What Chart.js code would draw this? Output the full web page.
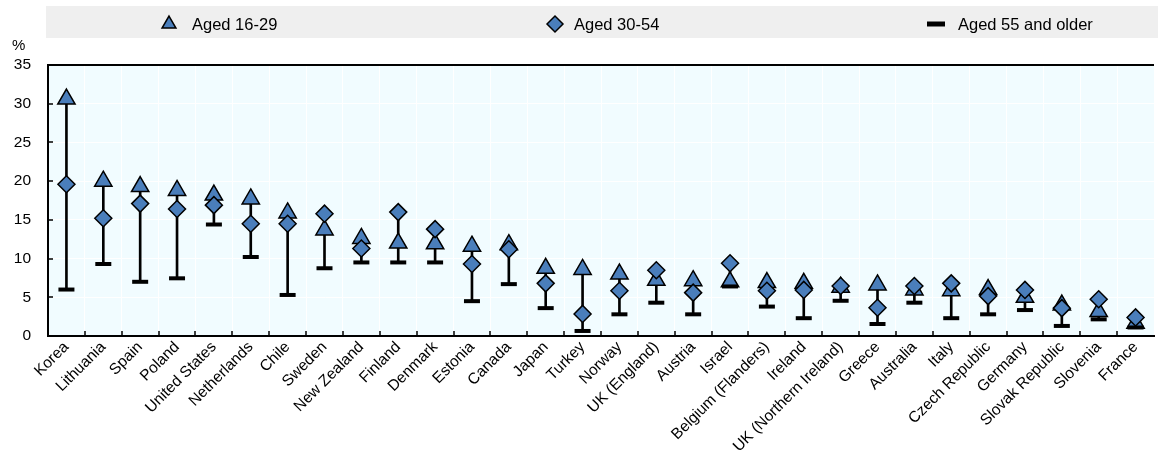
<!DOCTYPE html>
<html>
<head>
<meta charset="utf-8">
<script src="https://cdn.jsdelivr.net/npm/chart.js@4.4.1/dist/chart.umd.min.js"></script>
<style>
  html, body { margin: 0; padding: 0; background: #fff; overflow: hidden; }
  #wrap { width: 1158px; height: 457px; overflow: hidden; }
</style>
</head>
<body>
<div id="wrap"><canvas id="chart" width="1166" height="457"></canvas></div>
<script>
const FONT = "'Liberation Sans', Arial, sans-serif";
const BLUE = '#4A7EBB';

// Values (%)
const countries = ['Korea', 'Lithuania', 'Spain', 'Poland', 'United States', 'Netherlands', 'Chile',
  'Sweden', 'New Zealand', 'Finland', 'Denmark', 'Estonia', 'Canada', 'Japan', 'Turkey', 'Norway',
  'UK (England)', 'Austria', 'Israel', 'Belgium (Flanders)', 'Ireland', 'UK (Northern Ireland)',
  'Greece', 'Australia', 'Italy', 'Czech Republic', 'Germany', 'Slovak Republic', 'Slovenia', 'France'];
const aged16to29 = [30.6, 20.0, 19.3, 18.8, 18.2, 17.7, 15.9, 13.7, 12.6, 12.0, 11.9, 11.6, 11.8, 8.75,
  8.6, 8.0, 7.2, 7.15, 7.0, 6.9, 6.8, 6.3, 6.6, 5.95, 5.85, 6.0, 5.0, 4.0, 3.15, 1.65];
const aged30to54 = [19.6, 15.2, 17.1, 16.4, 16.9, 14.5, 14.5, 15.8, 11.3, 16.0, 13.8, 9.3, 11.2, 6.8,
  2.85, 5.85, 8.5, 5.6, 9.4, 5.85, 5.95, 6.45, 3.65, 6.45, 6.8, 5.15, 5.95, 3.6, 4.75, 2.4];
const aged55plus = [6.0, 9.3, 7.0, 7.45, 14.4, 10.2, 5.3, 8.75, 9.5, 9.5, 9.5, 4.5, 6.7, 3.6,
  0.65, 2.8, 4.3, 2.8, 6.4, 3.8, 2.3, 4.55, 1.55, 4.3, 2.3, 2.8, 3.35, 1.3, 2.15, 1.1];
const yTicks = [0, 5, 10, 15, 20, 25, 30, 35];

// vertical line spans lowest to highest of the three groups
const ranges = countries.map((c, i) => {
  const v = [aged16to29[i], aged30to54[i], aged55plus[i]];
  return [Math.min(...v), Math.max(...v)];
});

const frame = {
  id: 'frame',
  beforeDraw(chart) {
    const { ctx, chartArea: a } = chart;
    ctx.save();
    ctx.fillStyle = '#F1FCFF';
    ctx.fillRect(a.left, a.top, a.right - a.left, a.bottom - a.top);
    ctx.restore();
  },
  beforeDatasetsDraw(chart) {
    const { ctx, chartArea: a, scales: { x, y } } = chart;
    ctx.save();
    ctx.strokeStyle = '#000';
    ctx.lineWidth = 2;
    ctx.beginPath();
    ctx.moveTo(a.left - 1, a.top);
    ctx.lineTo(a.right, a.top);
    ctx.stroke();
    // small inward tick marks
    ctx.lineWidth = 1.5;
    ctx.beginPath();
    for (let i = 1; i < countries.length; i++) {
      const px = Math.round((x.getPixelForTick(i - 1) + x.getPixelForTick(i)) / 2);
      ctx.moveTo(px, a.bottom);
      ctx.lineTo(px, a.bottom - 5);
    }
    yTicks.forEach(v => {
      const py = Math.round(y.getPixelForValue(v));
      ctx.moveTo(a.left, py);
      ctx.lineTo(a.left + 5, py);
    });
    ctx.stroke();
    ctx.restore();
  },
  afterDraw(chart) {
    const ctx = chart.ctx;
    ctx.save();
    ctx.fillStyle = '#EFEFEF';
    ctx.fillRect(46, 6, 1120, 32);
    ctx.fillStyle = '#000';
    ctx.font = '15px ' + FONT;
    ctx.textBaseline = 'middle';
    ctx.fillText('%', 12, 46);

    const items = [
      { ds: 2, x: 169, tx: 192 },
      { ds: 0, x: 555, tx: 574 },
      { ds: 1, x: 936, tx: 958 }
    ];
    const ly = 24;
    items.forEach(it => {
      const d = chart.data.datasets[it.ds];
      ctx.fillStyle = d.pointBackgroundColor || '#000';
      ctx.strokeStyle = d.pointBorderColor;
      ctx.lineWidth = d.pointStyle === 'line' ? 5 : 1.5;
      Chart.helpers.drawPoint(ctx, {
        pointStyle: d.pointStyle,
        radius: d.pointStyle === 'line' ? 9 : 8,
        rotation: 0,
        borderWidth: ctx.lineWidth
      }, it.x, ly);
      ctx.fillStyle = '#000';
      ctx.font = '16.5px ' + FONT;
      ctx.textBaseline = 'middle';
      ctx.fillText(d.label, it.tx, ly + 1);
    });
    ctx.restore();
  }
};

new Chart(document.getElementById('chart'), {
  type: 'bar',
  data: {
    labels: countries,
    datasets: [
      {
        type: 'line', label: 'Aged 30-54', data: aged30to54, showLine: false,
        pointStyle: 'rectRot', pointRadius: 8.5, pointHoverRadius: 8.5,
        pointBackgroundColor: BLUE, pointBorderColor: '#000', pointBorderWidth: 1.5, order: 1
      },
      {
        type: 'line', label: 'Aged 55 and older', data: aged55plus, showLine: false,
        pointStyle: 'line', pointRadius: 8, pointHoverRadius: 8,
        pointBorderColor: '#000', pointBorderWidth: 4, order: 2
      },
      {
        type: 'line', label: 'Aged 16-29', data: aged16to29, showLine: false,
        pointStyle: 'triangle', pointRadius: 10, pointHoverRadius: 10,
        pointBackgroundColor: BLUE, pointBorderColor: '#000', pointBorderWidth: 1.5, order: 3
      },
      {
        type: 'bar', label: 'range', data: ranges, backgroundColor: '#000',
        barThickness: 2, order: 4
      }
    ]
  },
  options: {
    responsive: false,
    maintainAspectRatio: false,
    devicePixelRatio: 1,
    animation: false,
    events: [],
    layout: { padding: { top: 65, right: 0, bottom: 0, left: 0 } },
    plugins: {
      legend: { display: false },
      tooltip: { enabled: false }
    },
    scales: {
      x: {
        offset: true,
        grid: { color: '#FFFFFF', lineWidth: 1, drawTicks: false, offset: true },
        border: { color: '#000', width: 2 },
        ticks: {
          autoSkip: false, maxRotation: 45, minRotation: 45, padding: 2,
          color: '#000', font: { family: FONT, size: 15.5 }
        },
        afterFit(s) { s.height = 121; }
      },
      y: {
        min: 0, max: 35,
        grid: { color: '#FFFFFF', lineWidth: 1, drawTicks: false },
        border: { color: '#000', width: 2 },
        ticks: {
          stepSize: 5, padding: 17, color: '#000',
          font: { family: FONT, size: 15.5 }
        },
        afterFit(s) { s.width = 48; }
      }
    }
  },
  plugins: [frame]
});
</script>
</body>
</html>
